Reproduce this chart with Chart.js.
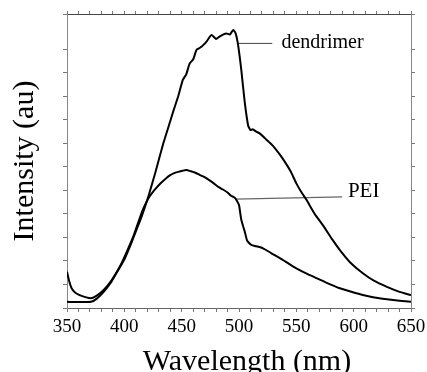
<!DOCTYPE html>
<html>
<head>
<meta charset="utf-8">
<script src="https://cdn.jsdelivr.net/npm/chart.js@4/dist/chart.umd.min.js"></script>
<style>
html,body{margin:0;padding:0;background:#fff;}
#wrap{width:427px;height:372px;}
</style>
</head>
<body>
<div id="wrap"><canvas id="c" width="427" height="372"></canvas></div>
<script>
const dendWavelength = [350,360,371,376,382,388,393,400,406,411,415,421,427,434,440,443,447,451,454,457,460,463,466,469,472,476,480,483,486,489,492,495,497,499,502,505,508,510,512,515,518,522,526,530,535,539,545,550,555,559,566,574,581,588,597,608,618,629,640,650];
const dendIntensity = [2.1,2.0,2.1,3.2,5.5,8.5,11.8,16.5,22,27,31,38,46,56,63.5,67.3,72,77.6,79.5,83.2,84.5,87.8,88.5,89.5,90.8,92.9,91.5,92.3,93.0,93.4,93.0,94.6,93.5,90,81,70,62,60.5,60.8,60,59.4,58,56.5,55,52.5,50.3,46.5,42.4,39,36.7,32,27.7,23.5,19.7,15.5,11.8,9.2,7.2,5.5,4.4];
const peiWavelength = [350,352,354,357,361,366,371,376,382,389,396,402,408,412,416,419,422,426,431,436,440,443,447,451,454,458,462,466,470,474,478,482,486,490,493,496,498,500,502,505,507,509,511,515,521,528,536,543,550,559,568,578,588,598,608,618,629,640,650];
const peiIntensity = [12.3,9,6.7,5.3,4.4,3.7,3.3,4.2,6.1,9.5,14,19,24.5,29,33.3,35.8,37.9,40,42.2,44,45.2,45.8,46.3,46.7,46.9,46.5,46,45.2,44.5,43.5,42.4,41.2,40.3,39.3,38.2,37.6,36.6,35,30,26,23,22,21.4,21,20.3,18.7,16.9,15.2,13.5,11.7,10.1,8.3,6.7,5.5,4.4,3.6,3.0,2.5,2.1];
const xTickLabels = [350,400,450,500,550,600,650];
const seriesLabels = ["dendrimer","PEI"];
const xTitle = "Wavelength (nm)";
const yTitle = "Intensity (au)";
// leader lines: [x1,x2], [y1,y2]
const dendLeaderX = [499.5,529], dendLeaderY = [90,90];
const peiLeaderX = [496.5,590], peiLeaderY = [37,37.8];
const dendLabelPos = [537,90.2];
const peiLabelPos = [595,39.5];
const xTitlePos = 507; // wavelength at title centre

const toPts = (xs, ys) => xs.map((x,i)=>({x:x,y:ys[i]}));
const SERIF = "'Liberation Serif','DejaVu Serif',serif";

const labelPlugin = {
  id:'labels',
  afterDraw(chart){
    const {ctx, scales:{x,y}} = chart;
    ctx.save();
    ctx.fillStyle = '#000';
    ctx.textBaseline = 'middle';
    ctx.textAlign = 'left';
    ctx.font = '20px ' + SERIF;
    ctx.fillText(seriesLabels[0], x.getPixelForValue(dendLabelPos[0]), y.getPixelForValue(dendLabelPos[1]));
    ctx.font = '21px ' + SERIF;
    ctx.fillText(seriesLabels[1], x.getPixelForValue(peiLabelPos[0]), y.getPixelForValue(peiLabelPos[1]));
    ctx.font = '30px ' + SERIF;
    ctx.textAlign = 'center';
    ctx.textBaseline = 'alphabetic';
    ctx.fillText(xTitle, x.getPixelForValue(xTitlePos), chart.height - 2);
    ctx.restore();
  }
};

new Chart(document.getElementById('c'), {
  type:'line',
  data:{
    datasets:[
      {data:toPts(dendWavelength,dendIntensity), borderColor:'#000', borderWidth:2, pointRadius:0, tension:0.15, fill:false},
      {data:toPts(peiWavelength,peiIntensity), borderColor:'#000', borderWidth:2, pointRadius:0, tension:0.2, fill:false},
      {data:toPts(dendLeaderX,dendLeaderY), borderColor:'#444', borderWidth:1, pointRadius:0, fill:false},
      {data:toPts(peiLeaderX,peiLeaderY), borderColor:'#666', borderWidth:1.2, pointRadius:0, fill:false}
    ]
  },
  options:{
    responsive:false,
    animation:false,
    devicePixelRatio:1,
    layout:{padding:{top:14,right:16,left:0,bottom:0}},
    plugins:{legend:{display:false}, tooltip:{enabled:false}},
    scales:{
      x:{
        type:'linear', position:'bottom', min:350, max:650,
        afterFit(s){ s.height = 64; s.paddingLeft = 0; s.paddingRight = 0; },
        ticks:{stepSize:10, autoSkip:false, maxRotation:0, color:'#000', padding:4,
          font:{family:SERIF, size:19},
          callback:(v)=> xTickLabels.includes(v) ? String(v) : ''},
        grid:{drawOnChartArea:false, color:'#777', tickLength:4, tickWidth:1},
        border:{color:'#666', width:1, dash:[3,1]}
      },
      x2:{
        type:'linear', position:'top', min:350, max:650,
        afterFit(s){ s.height = 0; s.paddingLeft = 0; s.paddingRight = 0; },
        ticks:{display:false, stepSize:10},
        grid:{drawOnChartArea:false, color:'#777', tickLength:3},
        border:{color:'#444', width:1}
      },
      y:{
        type:'linear', position:'left', min:0, max:100,
        afterFit(s){ s.width = 67; },
        ticks:{display:false, stepSize:8},
        grid:{drawOnChartArea:false, color:'#777', tickLength:4},
        border:{color:'#888', width:1, dash:[2,1]},
        title:{display:true, text:yTitle, color:'#000', font:{family:SERIF, size:30}, padding:{top:7,bottom:0}}
      },
      y2:{
        type:'linear', position:'right', min:0, max:100,
        afterFit(s){ s.width = 0; },
        ticks:{display:false, stepSize:8},
        grid:{drawOnChartArea:false, color:'#777', tickLength:4},
        border:{color:'#888', width:1, dash:[2,1]}
      }
    }
  },
  plugins:[labelPlugin]
});
</script>
</body>
</html>
